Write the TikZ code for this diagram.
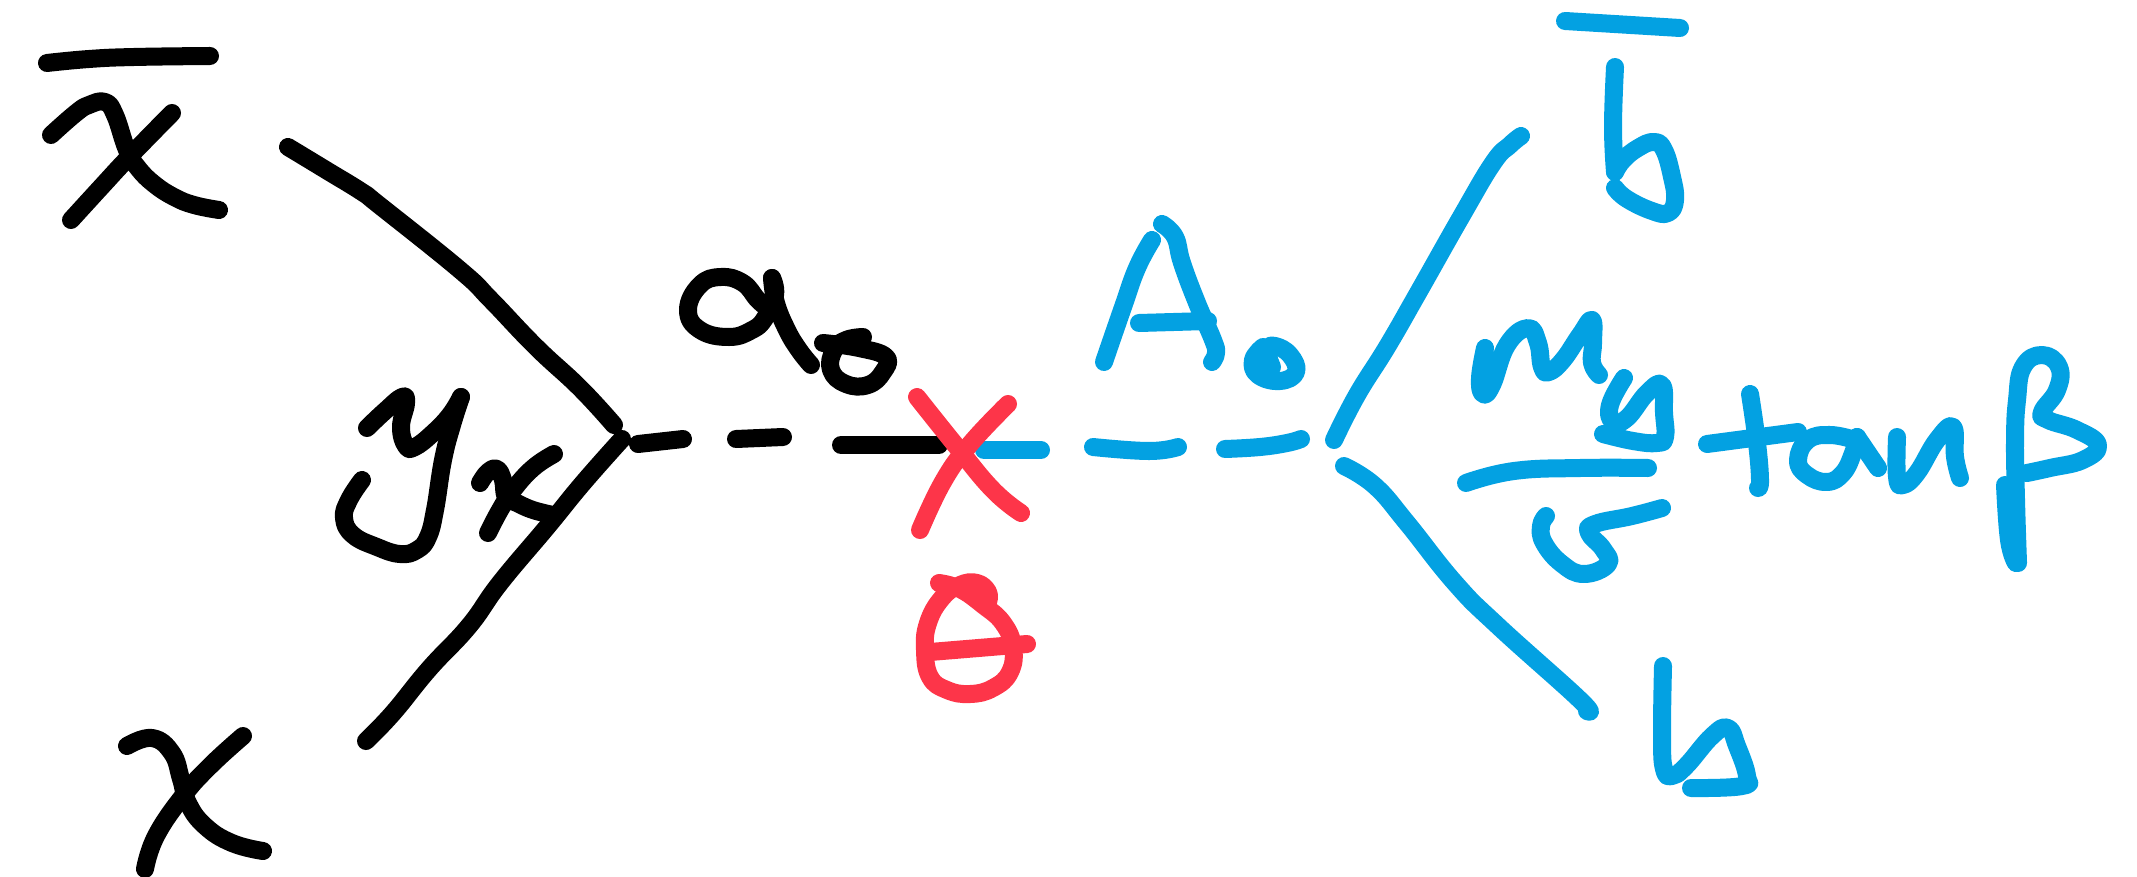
\documentclass[tikz,border=0pt]{standalone}
\definecolor{InkBlue}{HTML}{03A1E2}
\definecolor{InkRed}{HTML}{FD3549}
\begin{document}
\begin{tikzpicture}[
  x=0.01cm,y=-0.01cm,
  pen/.style={line width=0.18cm,line cap=round,line join=round,smooth,tension=0.75},
  black ink/.style={pen,black},
  blue ink/.style={pen,InkBlue},
  red ink/.style={pen,InkRed}
]
  \useasboundingbox (0,0) rectangle (2137,876);
  \draw[black ink] plot coordinates {(47,63) (89,59) (134,57) (210,56)};
  \draw[black ink] plot coordinates {(51,135) (76,113) (89,105) (105,102) (115,115) (127,150) (138,168) (154,184) (174,197) (194,205) (219,210)};
  \draw[black ink] plot coordinates {(172,113) (129,157) (103,185) (71,220)};
  \draw[black ink] plot coordinates {(288,147) (326,170) (362,192) (379,205) (460,270) (491,300) (536,347) (580,388) (614,425)};
  \draw[black ink] plot coordinates {(622,439) (583,483) (547,527) (500,583) (469,626) (429,669) (393,713) (366,741)};
  \draw[black ink] plot coordinates {(127,746) (152,738) (172,753) (181,779) (188,803) (205,826) (232,843) (263,851)};
  \draw[black ink] plot coordinates {(243,736) (210,766) (183,796) (156,836) (145,869)};
  \draw[black ink] plot coordinates {(367,428) (385,411) (402,397) (406,403) (401,427) (406,446) (415,447) (433,433) (450,415) (461,397)};
  \draw[black ink] plot coordinates {(461,397) (452,425) (443,460) (435,510) (428,537) (417,550) (400,554) (377,547) (353,535) (344,518) (349,500) (362,480)};
  \draw[black ink] plot coordinates {(480,483) (488,472) (497,469) (503,480) (506,497) (517,503) (533,510) (553,515)};
  \draw[black ink] plot coordinates {(554,454) (533,468) (513,490) (500,510) (488,533)};
  \draw[black ink] plot coordinates {(772,278) (775,295) (765,318) (752,330) (729,337) (700,330) (688,310) (700,285) (721,277) (743,283) (758,300) (770,310)};
  \draw[black ink] plot coordinates {(772,278) (776,303) (787,330) (799,350) (811,365)};
  \draw[black ink] plot coordinates {(863,337) (846,340) (834,350) (831,370) (846,384) (868,385) (883,372) (886,357) (859,348) (823,343)};
  \draw[black ink] (638,444) -- (683,439);
  \draw[black ink] (736,439) -- (783,437);
  \draw[black ink] (841,445) -- (939,445);

  \draw[blue ink] (984,450) -- (1041,450);
  \draw[blue ink] plot coordinates {(1093,447) (1149,451) (1178,447)};
  \draw[blue ink] plot coordinates {(1225,449) (1260,447) (1287,443) (1301,439)};
  \draw[blue ink] plot coordinates {(1104,362) (1123,307) (1137,268) (1152,240)};
  \draw[blue ink] plot coordinates {(1162,224) (1175,237) (1182,263) (1197,303) (1213,340) (1216,353) (1212,362)};
  \draw[blue ink] (1139,323) -- (1208,321);
  \draw[blue ink] plot coordinates {(1263,347) (1253,360) (1258,375) (1280,381) (1296,372) (1290,355) (1275,346) (1267,350) (1272,367)};
  \draw[blue ink] plot coordinates {(1334,440) (1357,395) (1387,347) (1418,293) (1461,217) (1493,163) (1510,145) (1521,136)};
  \draw[blue ink] plot coordinates {(1344,466) (1375,486) (1407,523) (1455,583) (1498,626) (1579,699) (1587,711)};
  \draw[blue ink] (1565,21) -- (1680,28);
  \draw[blue ink] plot coordinates {(1615,67) (1613,127) (1615,172)};
  \draw[blue ink] plot coordinates {(1615,172) (1623,160) (1638,148) (1654,142) (1664,150) (1672,177) (1675,200) (1668,213) (1652,211) (1627,199) (1615,188)};
  \draw[blue ink] plot coordinates {(1485,348) (1480,378) (1483,394) (1492,385) (1507,345) (1528,328) (1538,343) (1542,367) (1549,372) (1563,360) (1580,335) (1592,320) (1593,343) (1592,363) (1599,375)};
  \draw[blue ink] plot coordinates {(1624,378) (1610,405) (1613,422) (1627,418) (1647,393) (1662,385) (1664,413) (1665,437) (1657,443) (1633,441) (1603,434)};
  \draw[blue ink] plot coordinates {(1466,483) (1514,471) (1580,468) (1648,468)};
  \draw[blue ink] plot coordinates {(1662,508) (1632,516) (1595,524) (1589,533) (1603,549) (1608,564) (1584,574) (1562,564) (1544,543) (1541,526) (1546,516)};
  \draw[blue ink] plot coordinates {(1663,666) (1662,736) (1664,769) (1672,776) (1686,766) (1712,736) (1728,728) (1737,746) (1747,776) (1742,786) (1691,788)};
  \draw[blue ink] plot coordinates {(1750,394) (1757,443) (1760,480) (1758,488)};
  \draw[blue ink] (1707,444) -- (1798,432);
  \draw[blue ink] plot coordinates {(1855,440) (1830,435) (1808,440) (1798,460) (1807,475) (1827,482) (1843,473) (1853,453) (1857,437)};
  \draw[blue ink] (1857,437) -- (1878,468);
  \draw[blue ink] plot coordinates {(1897,437) (1897,477) (1903,485) (1917,473) (1937,440) (1953,427) (1955,457) (1960,478)};
  \draw[blue ink] plot coordinates {(2018,563) (2016,500) (2015,440) (2017,400) (2023,367) (2042,355) (2059,367) (2057,390) (2042,412) (2048,420) (2077,430) (2098,445) (2083,460) (2050,468) (2027,473)};
  \draw[blue ink] plot coordinates {(2005,485) (2009,540) (2016,563)};

  \draw[red ink] plot coordinates {(917,397) (957,447) (993,490) (1021,513)};
  \draw[red ink] plot coordinates {(1008,404) (971,443) (944,480) (920,530)};
  \draw[red ink] plot coordinates {(939,583) (960,589) (983,605) (1003,623) (1013,647) (1010,672) (993,688) (970,694) (947,690) (930,677) (925,650) (928,623) (942,598) (960,585) (977,583) (988,592) (988,602)};
  \draw[red ink] (970,592) -- (985,597);
  \draw[red ink] (930,652) -- (1027,644);
\end{tikzpicture}
\end{document}
